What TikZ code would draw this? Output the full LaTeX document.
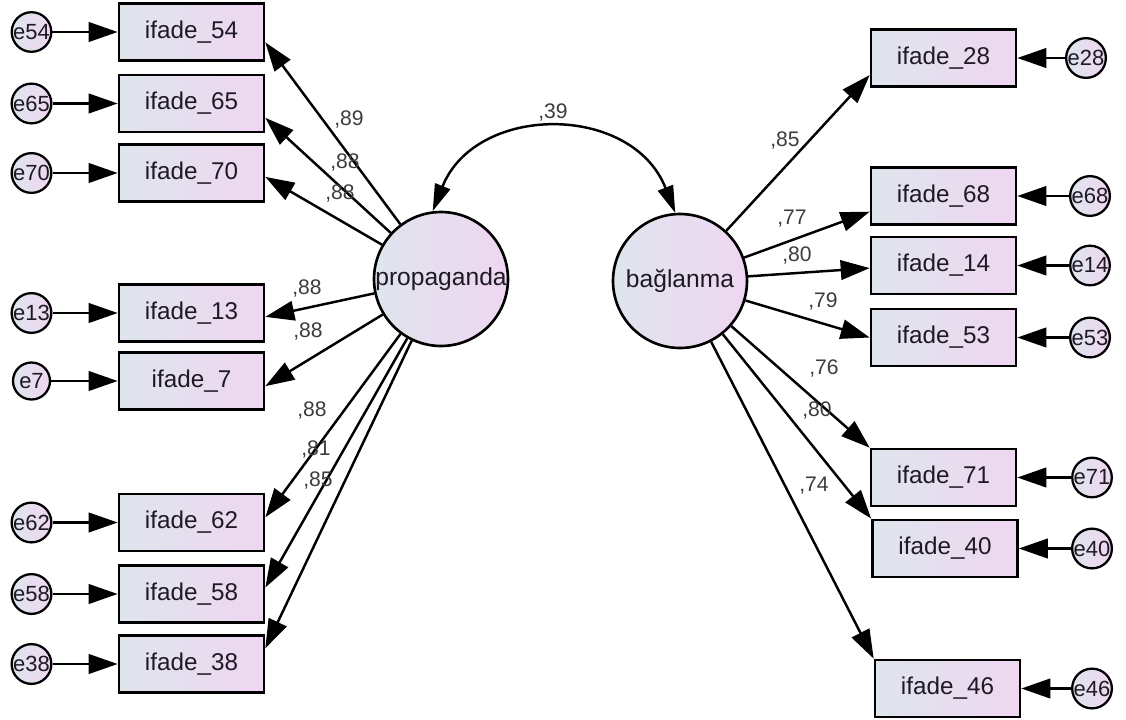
\documentclass[tikz,border=0pt]{standalone}
\usepackage{fontspec}
\setmainfont{Liberation Sans}
\usetikzlibrary{arrows.meta}
\definecolor{boxL}{RGB}{222,229,237}
\definecolor{boxR}{RGB}{239,214,241}
\definecolor{ldtext}{RGB}{60,60,60}
\definecolor{nodetext}{RGB}{30,25,35}
\tikzset{
  obs/.style={draw, line width=1.5pt, left color=boxL, right color=boxR,
    minimum width=2.9cm, minimum height=1.14cm, inner sep=0pt, text=nodetext,
    font=\fontsize{13.8}{16}\selectfont},
  lat/.style={circle, draw, line width=1.5pt, left color=boxL, right color=boxR,
    minimum size=2.68cm, inner sep=0pt, text=nodetext, font=\fontsize{14}{16}\selectfont},
  err/.style={circle, draw, line width=1.3pt, left color=boxL, right color=boxR,
    minimum size=0.74cm, inner sep=0pt, text=nodetext, font=\fontsize{12.5}{13}\selectfont},
  regpath/.style={-{Triangle[length=5.8mm,width=3.9mm]}, line width=1.4pt},
  covpath/.style={{Triangle[length=5.4mm,width=3.2mm]}-{Triangle[length=5.4mm,width=3.2mm]}, line width=1.4pt},
  ld/.style={font=\fontsize{12}{14}\selectfont, text=ldtext, inner sep=0pt}
}
\begin{document}
\begin{tikzpicture}[x=0.02cm, y=-0.02cm]
        \useasboundingbox (0,0) rectangle (1126,720);
        % latent variables
        \node[lat] (pro) at (441,279) {propaganda};
        \node[lat] (bag) at (680,281) {bağlanma};
        \draw[covpath] (pro.97) .. controls +(43,-108) and +(-43,-110) .. (bag.94);
        \node[ld] (l39) at (553,112) {,39};
        % left indicators
        \foreach \n/\y in {54/32, 65/103.5, 70/173, 13/313, 7/381, 62/522.5, 58/594, 38/664} {
            \node[obs] (b\n) at (191.5,\y) {ifade\_\n};
            \node[err] (e\n) at (31.5,\y) {e\n};
            \draw[regpath] (e\n) -- (b\n);
        }
        \foreach \n/\a/\lx/\ly/\v in {54/-8/349/119/89, 65/-11/345/162/88, 70/-3/340/193/88,
            13/-3/307/288/88, 7/-4/308/331/88, 62/4/312/410/88, 58/5/316/449/81, 38/12.5/318/480/85} {
            \draw[regpath] (pro) -- (b\n.\a);
            \node[ld] (l\n) at (\lx,\ly) {,\v};
        }
        % right indicators
        \foreach \n/\x/\y/\ex in {28/943.5/58/1086, 68/943.5/196/1090, 14/943.5/265.5/1090, 53/943.5/337.5/1090,
            71/943.5/477.5/1092, 40/945/548.5/1092, 46/947.5/688.5/1092} {
            \node[obs] (b\n) at (\x,\y) {ifade\_\n};
            \node[err] (e\n) at (\ex,\y) {e\n};
            \draw[regpath] (e\n) -- (b\n);
        }
        \foreach \n/\a/\lx/\ly/\v in {28/193/785/140/85, 68/192.6/792/219/77, 14/182/797/255/80,
            53/west/823/301/79, 71/north west/824/368/76, 40/north west/817/410/80, 46/north west/814/486/74} {
            \draw[regpath] (bag) -- (b\n.\a);
            \node[ld] (l\n) at (\lx,\ly) {,\v};
        }
\end{tikzpicture}
\end{document}
